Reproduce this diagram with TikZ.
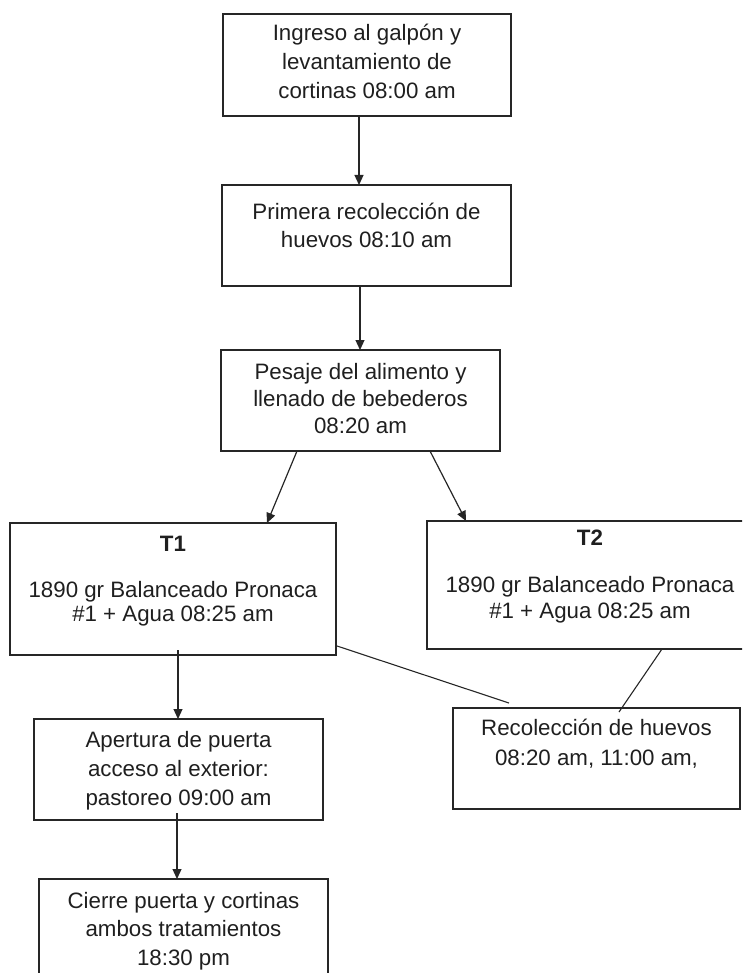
\documentclass[tikz,border=0pt]{standalone}
\usepackage{fontspec}
\setmainfont{Liberation Sans}
\usetikzlibrary{arrows.meta,calc}
\begin{document}
\begin{tikzpicture}[x=1pt,y=-1pt,
  box/.style={draw=black!85, line width=1.2pt, rectangle, inner sep=0pt, outer sep=0pt},
  txt/.style={inner sep=0pt, anchor=base, text=black!88, font=\fontsize{22.3}{#1}\selectfont},
  txt/.default=28,
  arr/.style={draw=black!85, line width=1.2pt, -{Triangle[length=10pt,width=9pt]}},
  con/.style={draw=black!85, line width=1.1pt}]
\useasboundingbox (0,0) rectangle (742,973);
\clip (0,0) rectangle (742,973);
% boxes
\node[box, minimum width=288pt, minimum height=102pt] (b1) at (367,65) {};
\node[box, minimum width=289pt, minimum height=101pt] (b2) at (366.5,235.5) {};
\node[box, minimum width=279pt, minimum height=101pt] (b3) at (360.5,400.5) {};
\node[box, minimum width=326pt, minimum height=132pt] (t1) at (173,589) {};
\node[box, minimum width=326pt, minimum height=128pt] (t2) at (590,585) {};
\node[box, minimum width=287pt, minimum height=101pt] (rec) at (596.5,758.5) {};
\node[box, minimum width=289pt, minimum height=101pt] (ap) at (178.5,769.5) {};
\node[box, minimum width=289pt, minimum height=111pt] (ci) at (183.5,934.5) {};
% texts
\node[txt=28.8] (b1t) at (367,41) {\begin{tabular}[t]{@{}c@{}}Ingreso al galpón y\\ levantamiento de\\ cortinas 08:00 am\end{tabular}};
\node[txt=27.3] (b2t) at (366.5,220) {\begin{tabular}[t]{@{}c@{}}Primera recolección de\\ huevos 08:10 am\end{tabular}};
\node[txt=27] (b3t) at (360.5,379) {\begin{tabular}[t]{@{}c@{}}Pesaje del alimento y\\ llenado de bebederos\\ 08:20 am\end{tabular}};
\node[txt] (t1h) at (173,551) {\textbf{T1}};
\node[txt=24.7] (t1t) at (173,597) {\begin{tabular}[t]{@{}c@{}}1890 gr Balanceado Pronaca\\ \#1 + Agua 08:25 am\end{tabular}};
\node[txt] (t2h) at (590,545) {\textbf{T2}};
\node[txt=26] (t2t) at (590,592) {\begin{tabular}[t]{@{}c@{}}1890 gr Balanceado Pronaca\\ \#1 + Agua 08:25 am\end{tabular}};
\node[txt=30] (rect) at (596.5,735) {\begin{tabular}[t]{@{}c@{}}Recolección de huevos\\ 08:20 am, 11:00 am,\end{tabular}};
\node[txt=29] (apt) at (178.5,747) {\begin{tabular}[t]{@{}c@{}}Apertura de puerta\\ acceso al exterior:\\ pastoreo 09:00 am\end{tabular}};
\node[txt=28.5] (cit) at (183.5,908) {\begin{tabular}[t]{@{}c@{}}Cierre puerta y cortinas\\ ambos tratamientos\\ 18:30 pm\end{tabular}};
% connectors
\draw[arr] ($(b1.south)+(-8,0)$) -- ($(b2.north)+(-7.5,0)$);
\draw[arr] ($(b2.south)+(-6.5,0)$) -- ($(b3.north)+(-0.5,0)$);
\draw[arr] ($(b3.south west)+(76,0)$) -- ($(t1.north west)+(257,0)$);
\draw[arr] ($(b3.south west)+(209,0)$) -- ($(t2.north west)+(39,0)$);
\draw[arr] ($(t1.south)+(5,-5)$) -- ($(ap.north)+(-0.5,0)$);
\draw[arr] ($(ap.south)+(-1.5,-7)$) -- ($(ci.north)+(-6.5,0)$);
\draw[con] ($(t1.south east)+(1,-9)$) -- ($(rec.north west)+(56,-5)$);
\draw[con] ($(t2.south west)+(235,0)$) -- ($(rec.north west)+(166,4)$);
\end{tikzpicture}
\end{document}
